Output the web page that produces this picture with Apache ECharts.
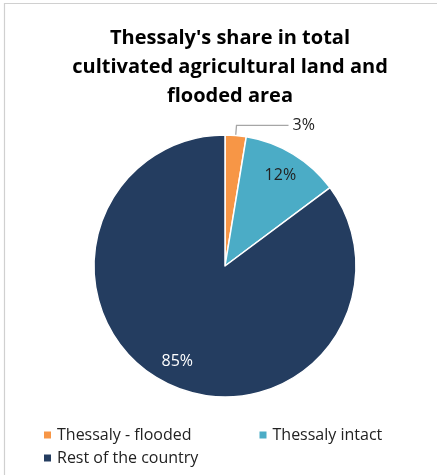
<!DOCTYPE html>
<html><head><meta charset="utf-8">
<script src="https://cdn.jsdelivr.net/npm/echarts@6/dist/echarts.min.js"></script>
<style>html,body{margin:0;padding:0;background:#fff}#c{width:437px;height:475px}</style>
</head><body><div id="c"></div>
<script>
const titleText = "Thessaly's share in total\ncultivated agricultural land and\nflooded area";
const categories = ["Thessaly - flooded", "Thessaly intact", "Rest of the country"];
const values = [2.6, 12.2, 85.2];
const colors = ["#F79646", "#4BACC6", "#243D60"];

const total = values.reduce((a, b) => a + b, 0);
const pct = v => Math.round(v / total * 100) + "%";
const font = "'Open Sans', 'Liberation Sans', sans-serif";

const chart = echarts.init(document.getElementById('c'), null, {renderer: 'canvas'});
chart.setOption({
  animation: false,
  graphic: [{type: 'rect', shape: {x: 4.5, y: 3.5, width: 440, height: 480}, style: {fill: 'none', stroke: '#D0D0D0', lineWidth: 1.2}, z: -1}],
  title: {text: titleText, left: 225, top: 19, textAlign: 'center',
    textStyle: {fontFamily: font, fontWeight: 'bold', fontSize: 20, lineHeight: 29, color: '#000'}},
  legend: [
    {data: [categories[0], categories[1]], left: 42, top: 427, padding: 0, orient: 'horizontal', itemWidth: 9, itemHeight: 9, itemGap: 66,
      icon: 'rect', textStyle: {fontFamily: font, fontSize: 16, color: '#222'}},
    {data: [categories[2]], left: 42, top: 450, padding: 0, itemWidth: 9, itemHeight: 9, icon: 'rect',
      textStyle: {fontFamily: font, fontSize: 16, color: '#222'}}
  ],
  series: [
    {type: 'pie', center: [225, 266], radius: [0, 131], startAngle: 90, clockwise: true,
      itemStyle: {borderColor: '#fff', borderWidth: 1.5},
      labelLine: {show: true, length: 10, length2: 52, smooth: false, lineStyle: {color: '#A6A6A6', width: 1.3}},
      label: {show: false},
      data: categories.map((n, i) => ({name: n, value: values[i], itemStyle: {color: colors[i]},
        label: i === 0 ? {show: true, position: 'outside', formatter: () => pct(values[i]), fontFamily: font, fontSize: 16, color: '#222', distanceToLabelLine: 4} : {show: false},
        labelLine: {show: i === 0}}))
    },
    {type: 'pie', center: [225, 266], radius: [76, 131], startAngle: 90, silent: true,
      itemStyle: {color: 'rgba(0,0,0,0)'}, labelLine: {show: false},
      data: categories.map((n, i) => ({name: n + ' ', value: values[i],
        label: i === 0 ? {show: false} : {show: true, position: 'inside', formatter: () => pct(values[i]), fontFamily: font, fontSize: 16,
          color: i === 1 ? '#222' : '#fff'}}))
    }
  ]
});
</script></body></html>
